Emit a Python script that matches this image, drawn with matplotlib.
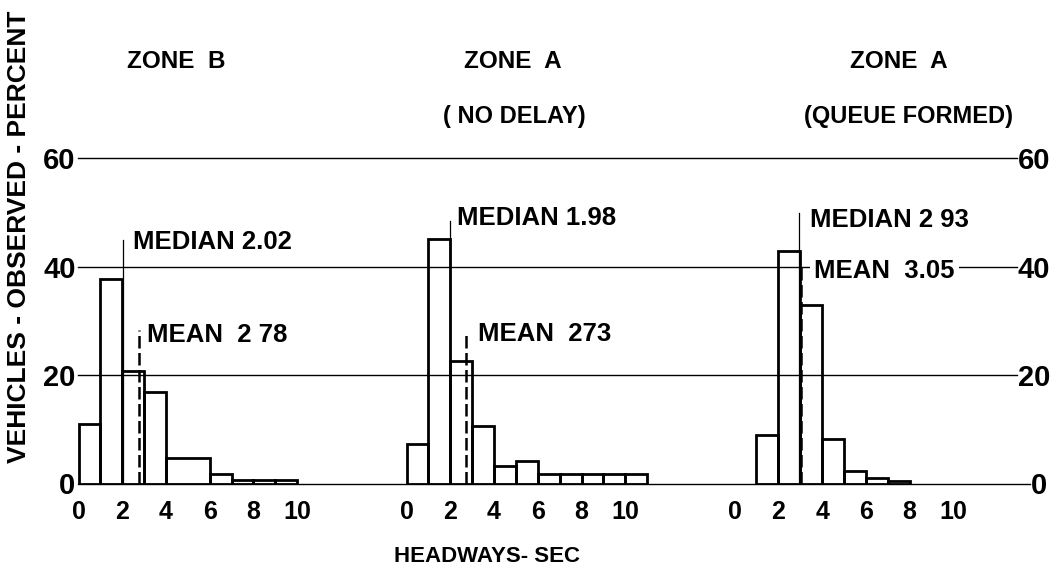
import matplotlib
matplotlib.use("Agg")
import matplotlib.pyplot as plt
import numpy as np

plt.rcParams['font.family'] = ['Liberation Sans', 'DejaVu Sans']
plt.rcParams['font.weight'] = 'bold'

# datos: porcentaje de vehiculos por intervalo (seg)
zone_titles = ["ZONE  B", "ZONE  A", "ZONE  A"]
zone_subtitles = ["", "( NO DELAY)", "(QUEUE FORMED)"]

edges_b = [0, 1, 2, 3, 4, 6, 7, 8, 9, 10]
pct_b = [11.0, 37.8, 20.8, 16.9, 4.7, 1.8, 0.7, 0.7, 0.7]

edges_a = [0, 1, 2, 3, 4, 5, 6, 7, 8, 9, 10, 11]
pct_a = [7.2, 45.2, 22.7, 10.6, 3.2, 4.2, 1.8, 1.8, 1.8, 1.8, 1.8]

edges_q = [1, 2, 3, 4, 5, 6, 7, 8]
pct_q = [9.0, 43.0, 32.9, 8.3, 2.3, 1.0, 0.4]

medians = [2.02, 1.98, 2.93]
means = [2.78, 2.73, 3.05]
median_text = ["MEDIAN 2.02", "MEDIAN 1.98", "MEDIAN 2 93"]
mean_text = ["MEAN  2 78", "MEAN  273", "MEAN  3.05"]

x_ticks = [0, 2, 4, 6, 8, 10]
y_ticks = [0, 20, 40, 60]

# disposicion (pixeles de la imagen de referencia)
W, H = 1063, 572
PX_SEC = 21.87      # pixeles por segundo
PX_PCT = 5.417      # pixeles por punto porcentual
X0, Y0 = 78.5, 483.5
panel_offset = [0, 15, 30]
median_top = [45, 48.4, 50]
mean_top = [28.4, 27.9, 40]
median_lbl = [(2.49, 44.6), (2.30, 49.0), (3.45, 48.6)]
mean_lbl = [(3.13, 27.4), (3.27, 27.6), (3.63, 39.3)]
title_pos = [(176, 62), (513, 62), (899, 62)]
subtitle_pos = [(176, 116), (514, 116), (908, 116)]

fig = plt.figure(figsize=(W / 100, H / 100), dpi=100)
left_px, right_px, top_px = 77, 1032, 140
ax = fig.add_axes([left_px / W, 1 - Y0 / H, (right_px - left_px) / W, (Y0 - top_px) / H])
ax.set_xlim((left_px - X0) / PX_SEC, (right_px - X0) / PX_SEC)
ax.set_ylim(0, (Y0 - top_px) / PX_PCT)
for s in ax.spines.values():
    s.set_visible(False)

# lineas horizontales y etiquetas de la derecha
for yv in y_ticks:
    end = 43.5 if yv == 0 else 42.9
    ax.plot([-0.03, end], [yv, yv], color='black', lw=1.0, clip_on=False, zorder=1)
    ax.text(end + 0.05, yv, str(yv), ha='left', va='center_baseline', fontsize=21,
            clip_on=False)

ax.set_yticks(y_ticks)
ax.set_yticklabels([str(v) for v in y_ticks], fontsize=21, va='center_baseline')
ax.tick_params(axis='y', length=0, pad=1)

xt, xl = [], []
for off in panel_offset:
    xt += [off + t for t in x_ticks]
    xl += [str(t) for t in x_ticks]
ax.set_xticks(xt)
ax.set_xticklabels(xl, fontsize=18)
ax.tick_params(axis='x', length=0, pad=12)

hist = [(edges_b, pct_b), (edges_a, pct_a), (edges_q, pct_q)]
for i, (edges, pct) in enumerate(hist):
    off = panel_offset[i]
    e = np.array(edges, dtype=float)
    ax.bar(e[:-1] + off, pct, width=np.diff(e), align='edge', fill=False,
           edgecolor='black', linewidth=2.0, zorder=3)
    ax.plot([off + medians[i]] * 2, [0, median_top[i]], color='black', lw=0.9, zorder=4)
    ax.plot([off + means[i]] * 2, [0, mean_top[i]], color='black', lw=1.8,
            ls=(0, (5, 1.8)), zorder=4)
    ax.text(off + median_lbl[i][0], median_lbl[i][1], median_text[i], fontsize=18.5,
            ha='left', va='center', zorder=5)
    kw = {}
    if i == 2:
        kw['bbox'] = dict(facecolor='white', edgecolor='none', pad=3)
    ax.text(off + mean_lbl[i][0], mean_lbl[i][1], mean_text[i], fontsize=18.5,
            ha='left', va='center', zorder=5, **kw)

    fig.text(title_pos[i][0] / W, 1 - title_pos[i][1] / H, zone_titles[i],
             fontsize=17.5, ha='center', va='center')
    if zone_subtitles[i]:
        fig.text(subtitle_pos[i][0] / W, 1 - subtitle_pos[i][1] / H, zone_subtitles[i],
                 fontsize=17, ha='center', va='center')

fig.text(19 / W, 1 - 237 / H, "VEHICLES - OBSERVED - PERCENT", rotation=90,
         fontsize=19, ha='center', va='center')
fig.text(487 / W, 1 - 557 / H, "HEADWAYS- SEC", fontsize=16, ha='center', va='center')

fig.savefig('out.png', dpi=100)
